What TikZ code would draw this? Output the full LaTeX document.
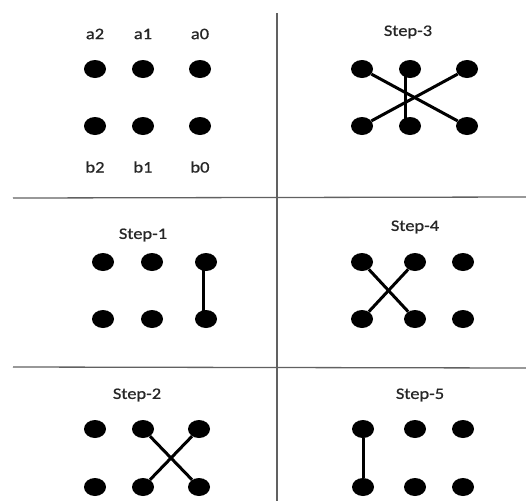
\documentclass[tikz,border=0pt]{standalone}
\usepackage{fontspec}
\setmainfont{Carlito}
\newfontfamily\lblfont{Carlito}[FakeBold=0.7]
\usetikzlibrary{shapes.geometric}
\tikzset{
  dot/.style={ellipse, fill=black, minimum width=22pt, minimum height=18pt, inner sep=0pt},
  lbl/.style={text=black!85, font=\lblfont\fontsize{16}{18}\selectfont, inner sep=0pt},
  grid/.style={draw=black!62, line width=1.3pt},
  link/.style={draw=black, line width=3pt}
}
\newcommand{\wide}[1]{\scalebox{1.15}[1]{#1}}
\begin{document}
\begin{tikzpicture}[x=1pt, y=-1pt]
\useasboundingbox (0,0) rectangle (526,501);
\fill[white] (0,0) rectangle (526,501);
% grid
\coordinate (vt) at (277,13);
\coordinate (vb) at (277,501);
\coordinate (h1l) at (13,198);
\coordinate (h1r) at (526,197);
\coordinate (h2l) at (13,367);
\coordinate (h2r) at (526,368);
\draw[grid] (vt) -- (vb);
\draw[grid] (h1l) -- (h1r);
\draw[grid] (h2l) -- (h2r);
% panel 0: labels
\foreach \n/\x in {2/95,1/143,0/200}{
  \node[dot] (pa\n) at (\x,69) {};
  \node[dot] (pb\n) at (\x,126) {};
}
\node[lbl] (la2) at (95,34) {\wide{a2}};
\node[lbl] (la1) at (143,34) {\wide{a1}};
\node[lbl] (la0) at (200,34) {\wide{a0}};
\node[lbl] (lb2) at (95,167) {\wide{b2}};
\node[lbl] (lb1) at (143,167) {\wide{b1}};
\node[lbl] (lb0) at (200,167) {\wide{b0}};
% step 3
\node[lbl] (t3) at (408,32) {\wide{Step-3}};
\foreach \n/\x in {2/362,1/410,0/467}{
  \node[dot] (ca\n) at (\x,69) {};
  \node[dot] (cb\n) at (\x,126) {};
}
\draw[link] (ca2) -- (cb0);
\draw[link] (ca0) -- (cb2);
\draw[link] ([xshift=-5pt]ca1.center) -- ([xshift=-5pt]cb1.center);
% step 1
\node[lbl] (t1) at (143,235) {\wide{Step-1}};
\foreach \n/\x in {2/103,1/152,0/206}{
  \node[dot] (da\n) at (\x,262) {};
  \node[dot] (db\n) at (\x,319) {};
}
\draw[link] ([xshift=-3pt]da0.center) -- ([xshift=-3pt]db0.center);
% step 4
\node[lbl] (t4) at (415,227) {\wide{Step-4}};
\foreach \n/\x in {2/362,1/415,0/463}{
  \node[dot] (ea\n) at (\x,262) {};
  \node[dot] (eb\n) at (\x,319) {};
}
\draw[link] (ea2) -- (eb1);
\draw[link] (ea1) -- (eb2);
% step 2
\node[lbl] (t2) at (137,395) {\wide{Step-2}};
\foreach \n/\x in {2/95,1/143,0/199}{
  \node[dot] (fa\n) at (\x,429) {};
  \node[dot] (fb\n) at (\x,487) {};
}
\draw[link] (fa1) -- (fb0);
\draw[link] (fa0) -- (fb1);
% step 5
\node[lbl] (t5) at (420,395) {\wide{Step-5}};
\foreach \n/\x in {2/363,1/415,0/463}{
  \node[dot] (ga\n) at (\x,429) {};
  \node[dot] (gb\n) at (\x,487) {};
}
\draw[link] (ga2) -- (gb2);
\end{tikzpicture}
\end{document}
